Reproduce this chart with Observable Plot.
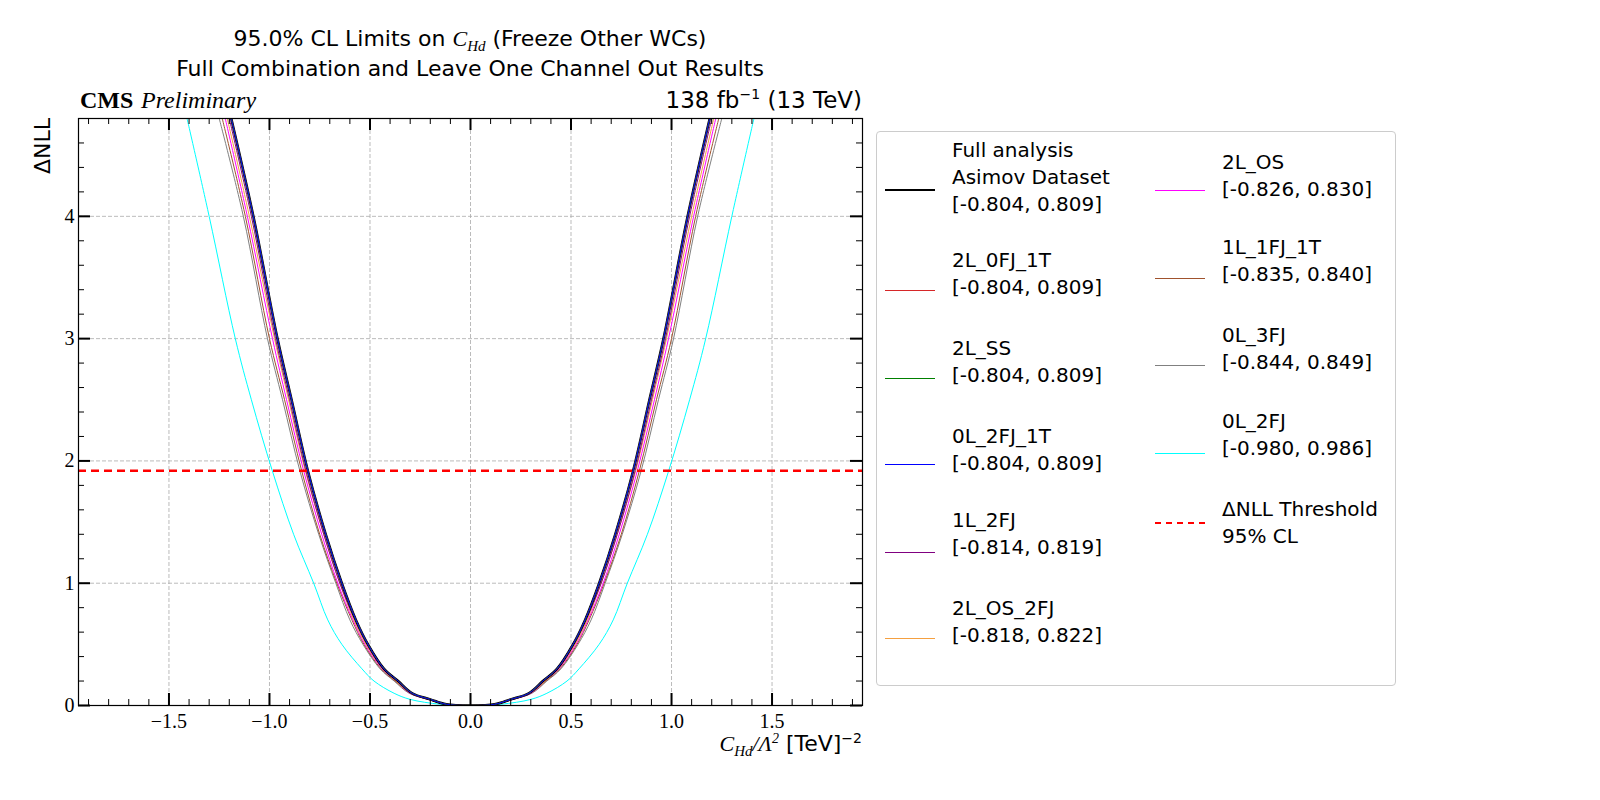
<!DOCTYPE html>
<html><head><meta charset="utf-8">
<script src="https://cdn.jsdelivr.net/npm/d3@7"></script>
<script src="https://cdn.jsdelivr.net/npm/@observablehq/plot@0.6"></script>
<style>
html,body{margin:0;background:#fff;overflow:hidden;}
#wrap{position:relative;width:1600px;height:800px;font-family:"DejaVu Sans",sans-serif;}
#wrap svg{max-width:none;}
.t{position:absolute;white-space:nowrap;color:#000;}
#legend{position:absolute;left:876px;top:131px;width:518px;height:553px;border:1px solid #ccc;border-radius:4px;}
.ln{position:absolute;width:50px;}
.lt{position:absolute;font-size:20px;line-height:27px;}
</style></head><body><div id="wrap"></div>
<script>
const dnllLevels = [0, 0.01, 0.05, 0.1, 0.2, 0.3, 0.5, 0.7, 1, 1.4, 1.92, 2.5, 3, 4, 4.8];
const seriesNames = ["Full analysis","2L_0FJ_1T","2L_SS","0L_2FJ_1T","1L_2FJ","2L_OS_2FJ","2L_OS","1L_1FJ_1T","0L_3FJ","0L_2FJ"];
const seriesLimits = ["[-0.804, 0.809]","[-0.804, 0.809]","[-0.804, 0.809]","[-0.804, 0.809]","[-0.814, 0.819]","[-0.818, 0.822]","[-0.826, 0.830]","[-0.835, 0.840]","[-0.844, 0.849]","[-0.980, 0.986]"];
const seriesColors = ["#000000","#d62728","#008000","#0000ff","#800080","#f5a040","#ff00ff","#a0522d","#808080","#00ffff"];
const seriesWidths = [2.5,1,1,1,1,1,1,1,1,1];
// |C| at which each curve reaches the dnllLevels
const seriesX = [
 [0,0.12,0.20,0.29,0.36,0.43,0.51,0.57,0.64,0.72,0.809,0.89,0.96,1.08,1.19],
 [0,0.12,0.20,0.29,0.36,0.43,0.51,0.57,0.64,0.72,0.809,0.89,0.96,1.08,1.19],
 [0,0.12,0.20,0.29,0.36,0.43,0.51,0.57,0.64,0.72,0.809,0.89,0.96,1.08,1.19],
 [0,0.12,0.20,0.29,0.36,0.43,0.51,0.57,0.64,0.72,0.809,0.89,0.96,1.08,1.19],
 [0,0.12,0.20,0.29,0.36,0.435,0.515,0.575,0.65,0.73,0.819,0.90,0.97,1.09,1.20],
 [0,0.12,0.20,0.295,0.37,0.437,0.52,0.58,0.65,0.73,0.822,0.905,0.975,1.10,1.21],
 [0,0.12,0.21,0.30,0.37,0.44,0.525,0.585,0.66,0.74,0.830,0.915,0.985,1.11,1.22],
 [0,0.12,0.21,0.30,0.375,0.445,0.53,0.59,0.665,0.75,0.840,0.925,1.00,1.12,1.235],
 [0,0.13,0.21,0.305,0.38,0.45,0.535,0.60,0.67,0.755,0.849,0.935,1.01,1.13,1.25],
 [0,0.15,0.30,0.38,0.48,0.54,0.64,0.71,0.78,0.88,0.986,1.09,1.17,1.30,1.41]
];
const threshold = 1.92;
const xMajor = [-1.5,-1,-0.5,0,0.5,1,1.5];
const yMajor = [0,1,2,3,4];

const drawOrder = [9,8,7,6,5,4,0,1,2,3];
const curves = [];
for (const i of drawOrder) {
  const pts = [];
  for (let k = dnllLevels.length-1; k >= 1; k--) pts.push({x:-seriesX[i][k], y:dnllLevels[k], s:i});
  for (let k = 0; k < dnllLevels.length; k++) pts.push({x:seriesX[i][k], y:dnllLevels[k], s:i});
  curves.push(pts);
}
const xMinor = d3.range(-19,20).map(v=>v/10);
const yMinor = d3.range(0,24).map(v=>v/5);
const dx = 3.9/784, dy = 4.8/587;
const tickMarks = [];
for (const v of xMinor) {
  const L = xMajor.some(m=>Math.abs(m-v)<1e-9) ? 12 : 6;
  tickMarks.push(Plot.ruleX([v],{y1:0,y2:L*dy,stroke:"#000",strokeWidth:L>6?2:1}));
  tickMarks.push(Plot.ruleX([v],{y1:4.8,y2:4.8-L*dy,stroke:"#000",strokeWidth:L>6?2:1}));
}
for (const v of yMinor) {
  const L = yMajor.some(m=>Math.abs(m-v)<1e-9) ? 12 : 6;
  tickMarks.push(Plot.ruleY([v],{x1:-1.95,x2:-1.95+L*dx,stroke:"#000",strokeWidth:L>6?2:1}));
  tickMarks.push(Plot.ruleY([v],{x1:1.95,x2:1.95-L*dx,stroke:"#000",strokeWidth:L>6?2:1}));
}
const plot = Plot.plot({
  width:1600, height:800,
  marginLeft:78, marginRight:738, marginTop:118, marginBottom:95,
  x:{domain:[-1.95,1.95]}, y:{domain:[0,4.8]},
  style:{fontFamily:"'Liberation Serif',serif",fontSize:"20px",background:"#fff",maxWidth:"none"},
  marks:[
    Plot.ruleX(xMajor,{stroke:"#aaa",strokeDasharray:"4,2",strokeWidth:0.8}),
    Plot.ruleY(yMajor,{stroke:"#aaa",strokeDasharray:"4,2",strokeWidth:0.8}),
    ...curves.map(pts=>Plot.line(pts,{x:"x",y:"y",stroke:seriesColors[pts[0].s],strokeWidth:seriesWidths[pts[0].s],curve:"catmull-rom",clip:true})),
    Plot.ruleY([threshold],{stroke:"#ff0000",strokeWidth:2.5,strokeDasharray:"8,5"}),
    ...tickMarks,
    Plot.frame({stroke:"#000",strokeWidth:1.2}),
    Plot.axisX(xMajor,{tickSize:0,tickPadding:8,label:null,tickFormat:d=>d.toFixed(1).replace("-","\u2212"),fontSize:20}),
    Plot.axisY(yMajor,{tickSize:0,tickPadding:4,label:null,tickFormat:d=>String(d),fontSize:20})
  ]
});
const wrap = document.getElementById("wrap");
wrap.appendChild(plot);
plot.style.position="absolute";plot.style.left="0";plot.style.top="0";
function txt(html,left,top,extra){const d=document.createElement("div");d.className="t";d.innerHTML=html;d.style.left=left+"px";d.style.top=top+"px";d.style.fontSize="22px";if(extra)Object.assign(d.style,extra);wrap.appendChild(d);return d;}
txt('95.0% CL Limits on <i style="font-family:\'Liberation Serif\'">C<sub style="font-size:15px">Hd</sub></i> (Freeze Other WCs)',470,26,{transform:"translateX(-50%)"});
txt('Full Combination and Leave One Channel Out Results',470,56,{transform:"translateX(-50%)"});
txt('<b style="font-family:\'Liberation Serif\'">CMS</b> <i style="font-family:\'Liberation Serif\'">Preliminary</i>',80,86,{fontSize:"24px"});
txt('138 fb<sup style="font-size:14px">\u22121</sup> (13 TeV)',862,86,{transform:"translateX(-100%)",fontSize:"23px"});
txt('<i style="font-family:\'Liberation Serif\'">C<sub style="font-size:15px">Hd</sub>/\u039b<sup style="font-size:14px">2</sup></i> [TeV]<sup style="font-size:14px">\u22122</sup>',862,730,{transform:"translateX(-100%)"});
txt('\u0394NLL',30,118,{transform:"rotate(-90deg) translateX(-100%)",transformOrigin:"0 0",fontSize:"22px"});
const lg=document.createElement("div");lg.id="legend";wrap.appendChild(lg);
function entry(col,lines,textTop,lineY,color,w,dash){
  const lx = col===0?8:278, tx = col===0?75:345;
  const l=document.createElement("div");l.className="ln";l.style.left=lx+"px";l.style.top=(lineY-131)+"px";
  l.style.borderTop=(dash?`${w}px dashed ${color}`:`${w}px solid ${color}`);lg.appendChild(l);
  const t=document.createElement("div");t.className="lt";t.style.left=tx+"px";t.style.top=(textTop-131)+"px";t.innerHTML=lines.join("<br>");lg.appendChild(t);
}
const pos=[[0,136,188],[0,246,289],[0,334,377],[0,422,463],[0,506,551],[0,594,637],[1,148,189],[1,233,277],[1,321,364],[1,407,452]];
seriesNames.forEach((n,i)=>{
  const lines = i===0?["Full analysis","Asimov Dataset",seriesLimits[i]]:[n,seriesLimits[i]];
  entry(pos[i][0],lines,pos[i][1],pos[i][2],seriesColors[i],i===0?2.5:1,false);
});
entry(1,["\u0394NLL Threshold","95% CL"],495,521,"#ff0000",2.5,true);
</script></body></html>
